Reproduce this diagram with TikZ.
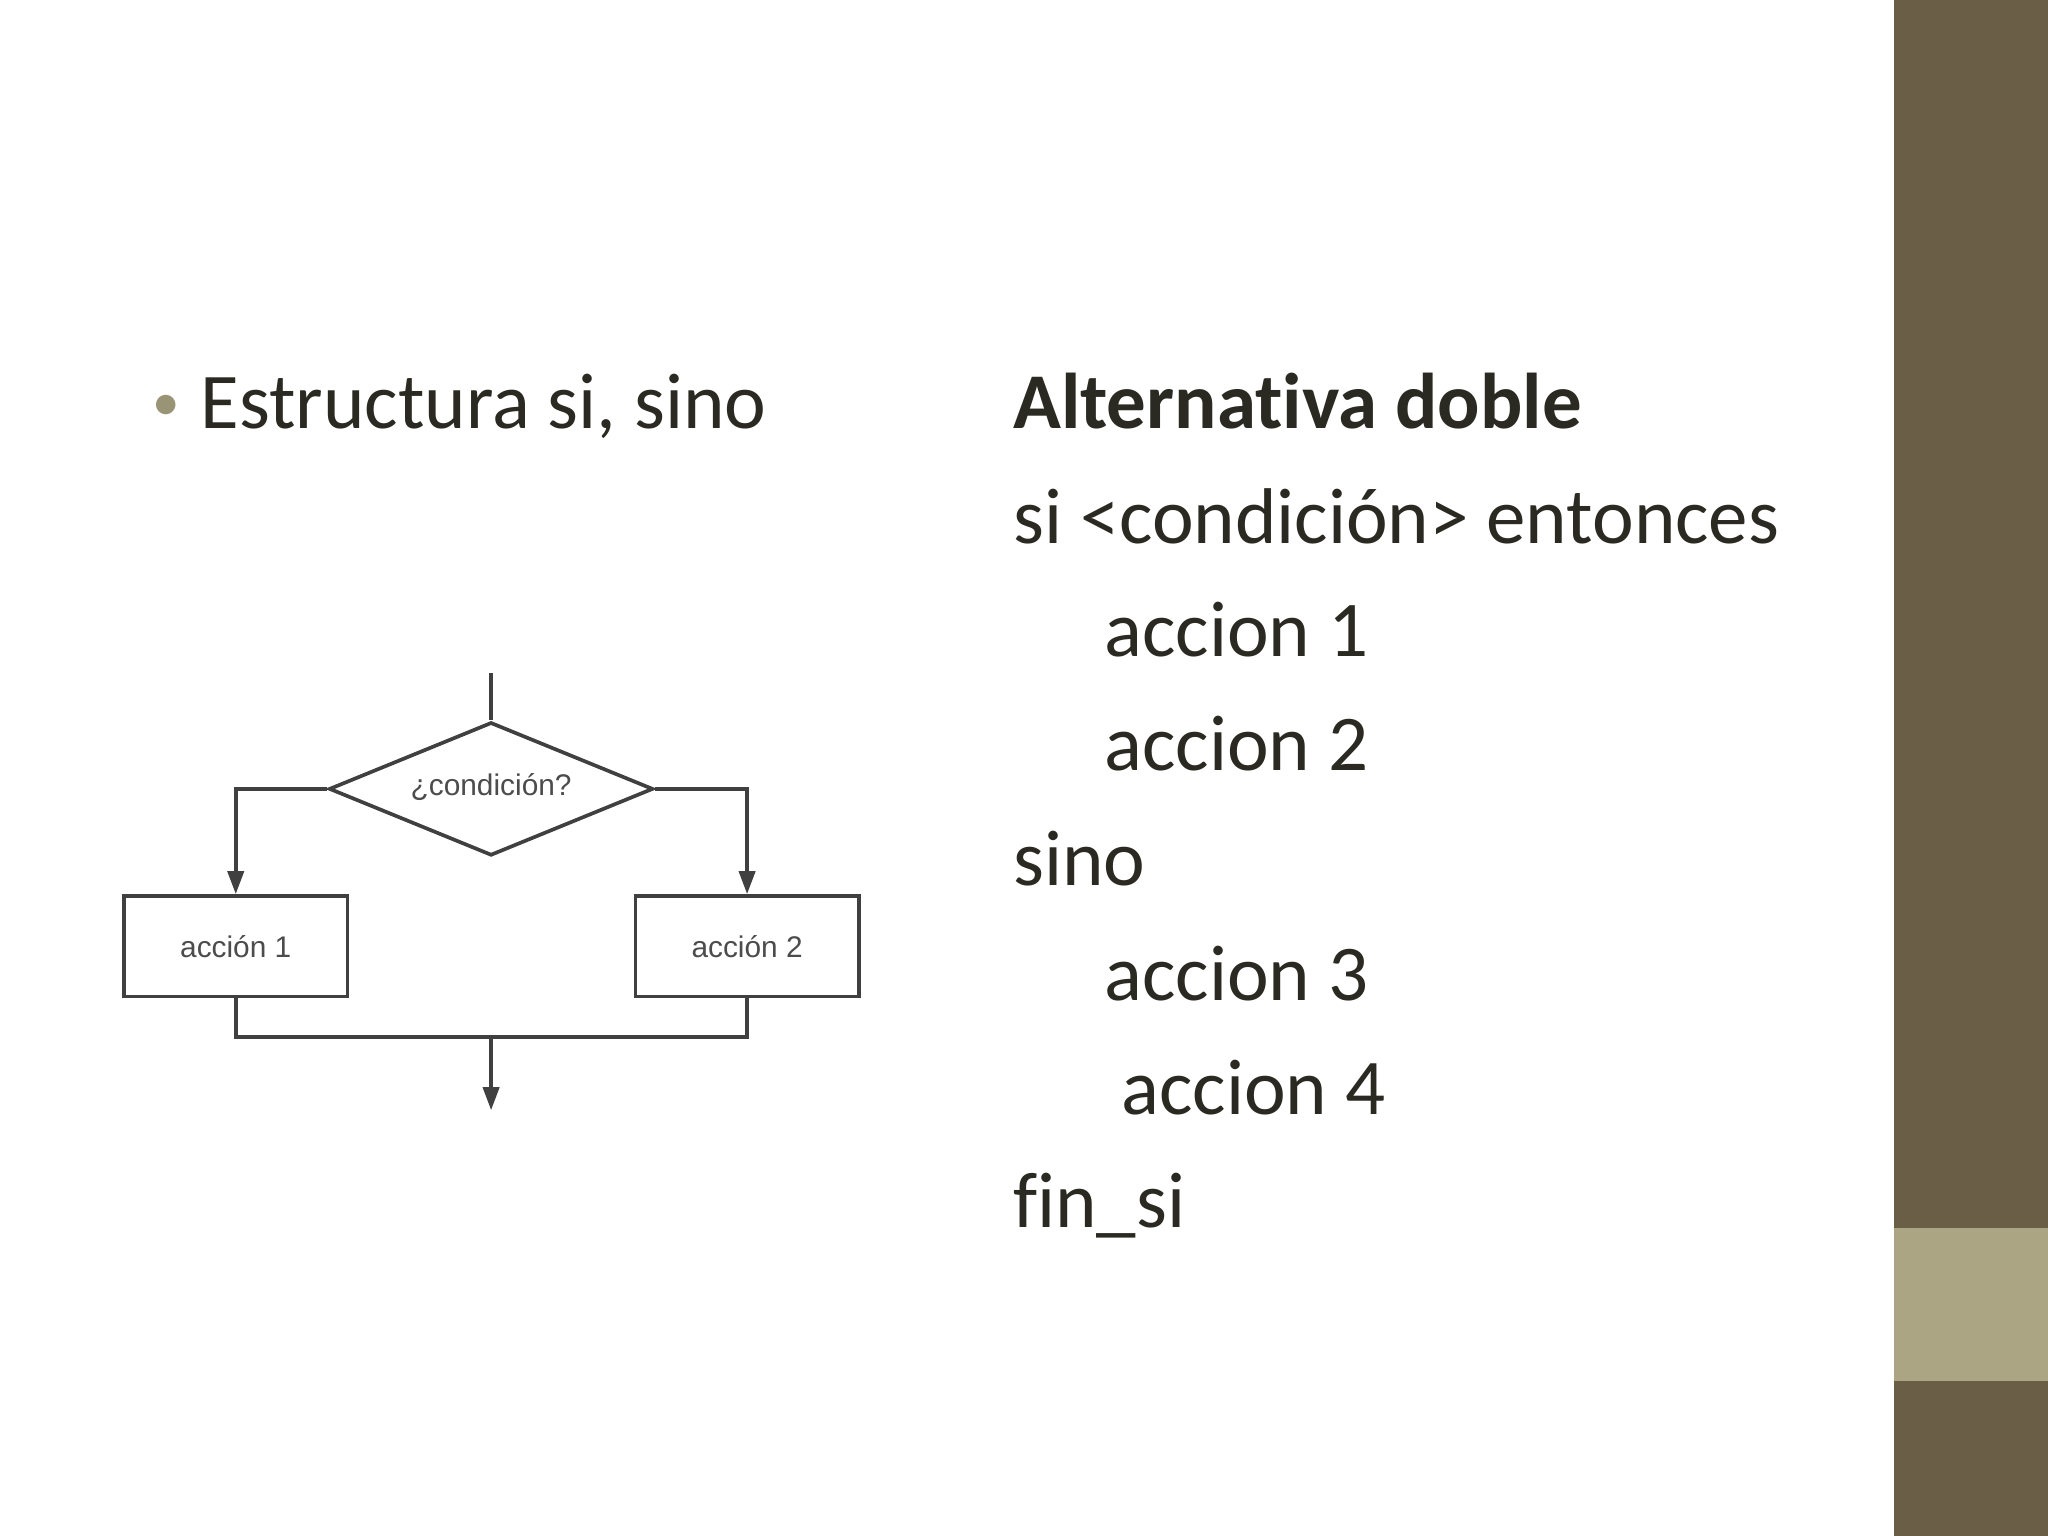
\documentclass[tikz,border=0pt]{standalone}
\usepackage{fontspec}
\setmainfont[Ligatures=NoCommon]{Carlito}
\newfontfamily\hfont{Liberation Sans}
\usetikzlibrary{shapes.geometric,arrows.meta}
\definecolor{darkbar}{HTML}{6B5E47}
\definecolor{lightbar}{HTML}{ABA584}
\definecolor{txt}{HTML}{2B2A22}
\tikzset{
 fc/.style={draw=black!75, line width=0.8pt},
 box/.style={fc, minimum width=1.71cm, minimum height=0.77cm, inner sep=0pt, font=\hfont\fontsize{6.5}{7}\selectfont, text=black!70},
 arr/.style={fc, -{Triangle[length=5pt,width=3.5pt]}},
 big/.style={anchor=base west, inner sep=0pt, text=txt, font=\fontsize{17.2}{20}\selectfont}
}
\begin{document}
\begin{tikzpicture}[x=0.01cm,y=-0.01cm]
\useasboundingbox (0,0) rectangle (1568,1176);
\fill[white] (0,0) rectangle (1450,1176);
\fill[darkbar] (1450,0) rectangle (1568,1176);
\fill[lightbar] (1450,940) rectangle (1568,1057);
% text
\node[anchor=base west, inner sep=0pt, text=lightbar!90!black, font=\fontsize{12}{14}\selectfont] (bul) at (116,322) {•};
\node[big] (t0) at (153,328) {Estructura si, sino};
\node[big] (t1) at (775,328) {\textbf{Alternativa doble}};
\node[big] (t2) at (775,416) {si <condición> entonces};
\node[big] (t3) at (845,503) {accion 1};
\node[big] (t4) at (845,590) {accion 2};
\node[big] (t5) at (775,678) {sino};
\node[big] (t6) at (845,766) {accion 3};
\node[big] (t7) at (858,853) {accion 4};
\node[big] (t8) at (775,940) {fin\_si};
% flowchart
\coordinate (top) at (376,515);
\node[diamond, fc, aspect=2.43, minimum width=2.48cm, minimum height=1.02cm, inner sep=0pt, font=\hfont\fontsize{6.5}{7}\selectfont, text=black!70] (d) at (376,604) {\raisebox{2pt}{¿condición?}};
\node[box] (a1) at (180.5,724.5) {acción 1};
\node[box] (a2) at (572,724.5) {acción 2};
\coordinate (out) at (376,850);
\draw[fc] (top) -- (d.north);
\draw[arr] (d.west) -| (a1.north);
\draw[arr] (d.east) -| (a2.north);
\draw[fc] (a1.south) |- (376,794) -| (a2.south);
\draw[arr] (376,794) -- (out);
\end{tikzpicture}
\end{document}
